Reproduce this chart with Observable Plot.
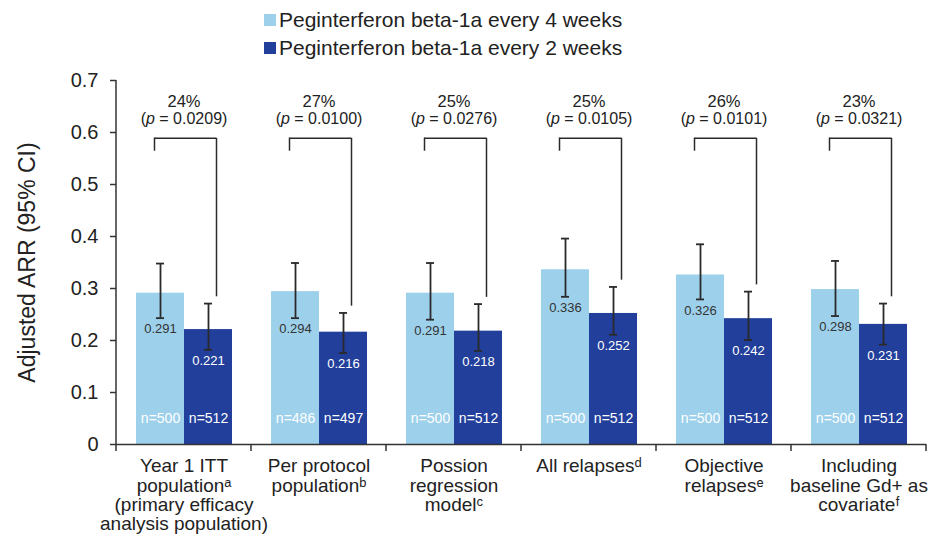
<!DOCTYPE html>
<html><head><meta charset="utf-8">
<script src="https://cdn.jsdelivr.net/npm/d3@7"></script>
<script src="https://cdn.jsdelivr.net/npm/@observablehq/plot@0.6"></script>
<style>
body{margin:0;background:#fff;font-family:"Liberation Sans",Arial,Helvetica,sans-serif;color:#222;}
#legend{height:60px;position:relative;}
.item{position:absolute;left:264px;display:flex;align-items:center;font-size:21px;height:28px;white-space:nowrap;}
.sw{width:12px;height:12px;margin-right:3px;}
</style></head><body>
<div id="legend"></div>
<div id="chart"></div>
<script>
// ---- data ----
const groups = ["itt", "pp", "poisson", "all", "objective", "gd"];
const groupLabels = [
  "Year 1 ITT\npopulation\u1d43\n(primary efficacy\nanalysis population)",
  "Per protocol\npopulation\u1d47",
  "Possion\nregression\nmodel\u1d9c",
  "All relapses\u1d48",
  "Objective\nrelapses\u1d49",
  "Including\nbaseline Gd+ as\ncovariate\u1da0"
];
const seriesKeys = ["q4w", "q2w"];
const seriesNames = ["Peginterferon beta-1a every 4 weeks", "Peginterferon beta-1a every 2 weeks"];
const seriesColors = ["#9dd0eb", "#223f9b"];
const q4wValues = [0.291, 0.294, 0.291, 0.336, 0.326, 0.298];
const q2wValues = [0.221, 0.216, 0.218, 0.252, 0.242, 0.231];
const q4wLower = [0.243, 0.243, 0.240, 0.284, 0.279, 0.247];
const q4wUpper = [0.348, 0.349, 0.349, 0.396, 0.385, 0.353];
const q2wLower = [0.182, 0.176, 0.180, 0.211, 0.201, 0.192];
const q2wUpper = [0.271, 0.253, 0.270, 0.303, 0.294, 0.271];
const q4wN = [500, 486, 500, 500, 500, 500];
const q2wN = [512, 497, 512, 512, 512, 512];
const reductions = ["24%", "27%", "25%", "25%", "26%", "23%"];
const pValues = ["0.0209", "0.0100", "0.0276", "0.0105", "0.0101", "0.0321"];
const yTicks = [0, 0.1, 0.2, 0.3, 0.4, 0.5, 0.6, 0.7];
const yLabel = "Adjusted ARR (95% CI)";

// ---- tables ----
const rows = groups.flatMap((g, i) => [
  {group: g, series: "q4w", value: q4wValues[i], lo: q4wLower[i], hi: q4wUpper[i], n: q4wN[i]},
  {group: g, series: "q2w", value: q2wValues[i], lo: q2wLower[i], hi: q2wUpper[i], n: q2wN[i]}
]);
const comps = groups.map((g, i) => ({group: g, pct: reductions[i], p: pValues[i], end: q2wUpper[i]}));

// bracket geometry (in y units)
const bracketTop = 0.589, legBottom = 0.564, legGap = 0.013;
const ink = "#2a2a2a";

// ---- legend ----
const legend = d3.select("#legend");
seriesNames.forEach((name, i) => {
  const it = legend.append("div").attr("class", "item").style("top", (6 + i * 28) + "px");
  it.append("div").attr("class", "sw").style("background", seriesColors[i]);
  it.append("span").text(name);
});

// ---- plot ----
const plot = Plot.plot({
  width: 949, height: 493,
  marginTop: 20, marginBottom: 109, marginLeft: 116, marginRight: 23,
  style: {fontFamily: '"Liberation Sans", Arial, Helvetica, sans-serif', color: "#222", background: "white", overflow: "visible"},
  fx: {domain: groups, padding: 0, axis: null},
  x: {domain: seriesKeys, paddingInner: 0, paddingOuter: 0.406, axis: null},
  y: {domain: [0, 0.7], axis: null},
  color: {domain: seriesKeys, range: seriesColors},
  marks: [
    Plot.barY(rows, {fx: "group", x: "series", y: "value", fill: "series"}),
    Plot.ruleY([0], {stroke: "#333", strokeWidth: 1.5}),
    Plot.ruleX(rows, {fx: "group", x: "series", y1: "lo", y2: "hi", stroke: ink, strokeWidth: 1.8}),
    Plot.tickY(rows, {fx: "group", x: "series", y: "lo", insetLeft: 20, insetRight: 20, stroke: ink, strokeWidth: 1.8}),
    Plot.tickY(rows, {fx: "group", x: "series", y: "hi", insetLeft: 20, insetRight: 20, stroke: ink, strokeWidth: 1.8}),
    Plot.text(rows.filter(d => d.series === "q4w"), {fx: "group", x: "series", y: "lo", dy: 11, text: d => d.value.toFixed(3), fill: "#333", fontSize: 13}),
    Plot.text(rows.filter(d => d.series === "q2w"), {fx: "group", x: "series", y: "lo", dy: 11, text: d => d.value.toFixed(3), fill: "white", fontSize: 13}),
    Plot.text(rows, {fx: "group", x: "series", frameAnchor: "bottom", dy: -22, text: d => "n=" + d.n, fill: "white", fontSize: 14}),
    Plot.ruleY(comps, {fx: "group", x1: () => "q4w", x2: () => "q2w", y: () => bracketTop, insetLeft: 18, insetRight: 16, stroke: ink, strokeWidth: 1.5}),
    Plot.ruleX(comps, {fx: "group", x: () => "q4w", y1: () => legBottom, y2: () => bracketTop, dx: -6, stroke: ink, strokeWidth: 1.5}),
    Plot.ruleX(comps, {fx: "group", x: () => "q2w", y1: d => d.end + legGap, y2: () => bracketTop, dx: 8, stroke: ink, strokeWidth: 1.5}),
    Plot.text(comps, {fx: "group", frameAnchor: "top", dy: 15, text: "pct", fontSize: 16.5, fill: "#222"}),
    Plot.text(comps, {fx: "group", frameAnchor: "top", dy: 32, text: d => `(p = ${d.p})`, fontSize: 16, fill: "#222"}),
    Plot.axisY({ticks: yTicks, tickFormat: d => d === 0 ? "0" : d.toFixed(1), tickSize: 6, tickPadding: 12, fontSize: 20, label: null, stroke: "#333", strokeWidth: 1.5}),
    Plot.axisY({ticks: [], label: yLabel, labelAnchor: "center", labelArrow: "none", labelOffset: 98, fontSize: 23}),
    Plot.axisFx({anchor: "bottom", tickSize: 0, tickPadding: 14, fontSize: 19, lineHeight: 1.02, label: null,
      tickFormat: g => groupLabels[groups.indexOf(g)]})
  ]
});
document.getElementById("chart").appendChild(plot);

// ---- axis lines & category boundary ticks via the plot's own scales ----
const svg = d3.select(plot);
const fx = plot.scale("fx"), ys = plot.scale("y");
const y0 = ys.apply(0), yTop = ys.apply(0.7);
const deco = svg.append("g").attr("stroke", "#333").attr("stroke-width", 1.5);
const left = fx.apply(groups[0]);
deco.append("line").attr("x1", left).attr("x2", left).attr("y1", yTop).attr("y2", y0);
const edges = groups.map(g => fx.apply(g)).concat([fx.apply(groups[groups.length - 1]) + fx.bandwidth]);
edges.forEach(e => deco.append("line").attr("x1", e).attr("x2", e).attr("y1", y0).attr("y2", y0 + 7));

// ---- italic p in p-values ----
svg.selectAll("text").each(function () {
  const t = this.textContent;
  if (this.children.length === 0 && t.startsWith("(p = ")) {
    const sel = d3.select(this);
    sel.text("");
    sel.append("tspan").text("(");
    sel.append("tspan").attr("font-style", "italic").text("p");
    sel.append("tspan").text(t.slice(2));
  }
});
</script>
</body></html>
